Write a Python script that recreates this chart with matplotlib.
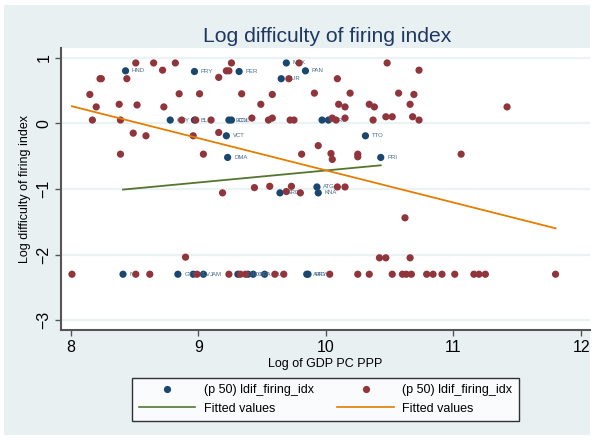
import matplotlib
matplotlib.use("Agg")
import matplotlib.pyplot as plt
from matplotlib.lines import Line2D
from matplotlib.patches import Rectangle

plt.rcParams['font.family'] = ['Liberation Sans', 'DejaVu Sans']

# Countries with a labelled median (p 50) firing-difficulty value
lab_names = ["HND", "PRY", "PER", "MEX", "PAN", "SUR", "GUY", "BLZ", "ECU", "COL",
             "CRI", "BRB", "VCT", "DMA", "TTO", "PRI", "ATG", "KNA", "GRD",
             "NIC", "GTM", "SLV", "JAM", "BOL", "DOM", "LCA", "BRA", "ARG", "URY"]
lab_gdp = [8.43, 8.97, 9.32, 9.69, 9.84, 9.65, 8.78, 8.97, 9.24, 9.26,
           9.97, 10.02, 9.22, 9.23, 10.31, 10.43, 9.93, 9.94, 9.64,
           8.41, 8.84, 8.96, 9.04, 9.31, 9.39, 9.43, 9.52, 9.85, 9.86]
lab_ldif = [0.80, 0.79, 0.79, 0.92, 0.80, 0.68, 0.05, 0.05, 0.05, 0.05,
            0.05, 0.05, -0.19, -0.52, -0.19, -0.52, -0.97, -1.06, -1.06,
            -2.30, -2.30, -2.30, -2.30, -2.30, -2.30, -2.30, -2.30, -2.30, -2.30]

# Remaining countries (p 50) firing-difficulty value
oth_gdp = [8.51, 8.65, 8.82, 9.26, 9.79, 10.48,
           8.72, 9.22, 9.24, 10.73,
           8.23, 8.24, 8.44, 9.16, 9.71, 10.09,
           8.15, 8.85, 9.01, 9.34, 9.58, 9.91, 10.19, 10.57, 10.69,
           8.20, 8.38, 8.52, 8.73, 9.49, 10.10, 10.15, 10.34, 10.38, 10.66, 11.42,
           8.17, 8.39, 8.87, 8.98, 9.10, 9.42, 9.55, 9.58, 9.72, 9.75,
           10.05, 10.08, 10.15, 10.37, 10.47, 10.52, 10.68, 10.73,
           8.49, 8.59, 8.96, 9.16,
           9.94,
           8.39, 9.04, 9.81, 10.04, 10.05, 10.25, 10.25, 11.06,
           9.19, 9.44, 9.56, 9.73, 9.69, 9.80, 10.09, 10.15,
           10.62,
           8.90, 10.42, 10.47, 10.66,
           8.01, 8.51, 8.62, 8.99, 9.24, 9.33, 9.37, 9.60, 9.67, 10.03, 10.25,
           10.34, 10.52, 10.60, 10.63, 10.67, 10.79, 10.84, 10.91, 11.01,
           11.16, 11.20, 11.25, 11.80]
oth_ldif = [0.92, 0.92, 0.92, 0.92, 0.92, 0.92,
            0.81, 0.80, 0.80, 0.81,
            0.68, 0.68, 0.68, 0.70, 0.68, 0.68,
            0.44, 0.45, 0.45, 0.45, 0.44, 0.46, 0.46, 0.46, 0.44,
            0.25, 0.29, 0.28, 0.25, 0.29, 0.29, 0.25, 0.29, 0.25, 0.29, 0.25,
            0.05, 0.05, 0.05, 0.05, 0.05, 0.08, 0.05, 0.08, 0.05, 0.05,
            0.08, 0.05, 0.08, 0.05, 0.10, 0.10, 0.10, 0.05,
            -0.15, -0.19, -0.19, -0.14,
            -0.34,
            -0.47, -0.47, -0.47, -0.46, -0.55, -0.47, -0.51, -0.47,
            -1.06, -0.98, -0.96, -0.96, -1.04, -1.06, -0.97, -0.97,
            -1.44,
            -2.04, -2.05, -2.05, -2.05,
            -2.30, -2.30, -2.30, -2.30, -2.30, -2.30, -2.30, -2.30, -2.30, -2.30, -2.30,
            -2.30, -2.30, -2.30, -2.30, -2.30, -2.30, -2.30, -2.30, -2.30,
            -2.30, -2.30, -2.30, -2.30]

# Linear fits (end points of the fitted values)
fit_lab_x = [8.41, 10.43]
fit_lab_y = [-1.01, -0.64]
fit_oth_x = [8.01, 11.80]
fit_oth_y = [0.26, -1.60]

x_ticks = [8, 9, 10, 11, 12]
y_ticks = [-3, -2, -1, 0, 1]

NAVY = "#1a476f"
MAROON = "#90353b"
GREEN = "#55752f"
ORANGE = "#e37e00"
REGION = "#e9f0f2"

W, H = 600, 440
fig = plt.figure(figsize=(W / 100, H / 100), dpi=100)
fig.patch.set_facecolor("white")
fig.add_artist(Rectangle((4 / W, 5 / H), 586 / W, 430 / H, transform=fig.transFigure,
                         facecolor=REGION, edgecolor="none", zorder=0))

ax = fig.add_axes([61 / W, 1 - 330 / H, 529 / W, 282 / H])
ax.set_facecolor("white")
ax.set_xlim(7.924, 12.07)
ax.set_ylim(-3.15, 1.148)

for v in y_ticks:
    ax.axhline(v, color="#eaf2f3", lw=1.6, zorder=0.5)

ax.scatter(lab_gdp, lab_ldif, s=27, color=NAVY, edgecolors="none", zorder=2)
for name, gx, gy in zip(lab_names, lab_gdp, lab_ldif):
    ax.annotate(name, (gx, gy), xytext=(4.6, 0), textcoords="offset points",
                fontsize=4.3, color="#4a6a8c", va="center", ha="left", zorder=2.1)
ax.scatter(oth_gdp, oth_ldif, s=27, color=MAROON, edgecolors="none", zorder=2.2)
ax.plot(fit_lab_x, fit_lab_y, color=GREEN, lw=1.3, zorder=2.3)
ax.plot(fit_oth_x, fit_oth_y, color=ORANGE, lw=1.3, zorder=2.4)

for side in ("top", "right"):
    ax.spines[side].set_visible(False)
for side in ("left", "bottom"):
    ax.spines[side].set_color("#555555")
    ax.spines[side].set_linewidth(1.5)

ax.set_xticks(x_ticks)
ax.set_yticks(y_ticks)
ax.tick_params(axis="both", length=4, width=1, color="#555555", labelsize=11.5, pad=3)
for lbl in ax.get_yticklabels():
    lbl.set_rotation(90)
    lbl.set_va("center")

ax.set_xlabel("Log of GDP PC PPP", fontsize=9, labelpad=2)
ax.set_ylabel("Log difficulty of firing index", fontsize=9, labelpad=4)

fig.text(0.5445, 1 - 41.7 / H, "Log difficulty of firing index", ha="center",
         va="baseline", fontsize=15.2, color="#1f3763")

handles = [
    Line2D([], [], ls="none", marker="o", ms=5.2, mfc=NAVY, mec="none"),
    Line2D([], [], color=GREEN, lw=1.2),
    Line2D([], [], ls="none", marker="o", ms=5.2, mfc=MAROON, mec="none"),
    Line2D([], [], color=ORANGE, lw=1.2),
]
labels = ["(p 50) ldif_firing_idx", "Fitted values",
          "(p 50) ldif_firing_idx", "Fitted values"]
leg = fig.legend(handles, labels, ncol=2, loc="center",
                 bbox_to_anchor=(325.5 / W, 1 - 399.5 / H), fontsize=9,
                 frameon=True, fancybox=False, handlelength=4.5, handletextpad=0.7,
                 columnspacing=1.9, labelspacing=0.5, borderpad=0.5, borderaxespad=0)
leg.get_frame().set_edgecolor("black")
leg.get_frame().set_linewidth(1.0)

fig.savefig("out.png", dpi=100, facecolor=fig.get_facecolor())
